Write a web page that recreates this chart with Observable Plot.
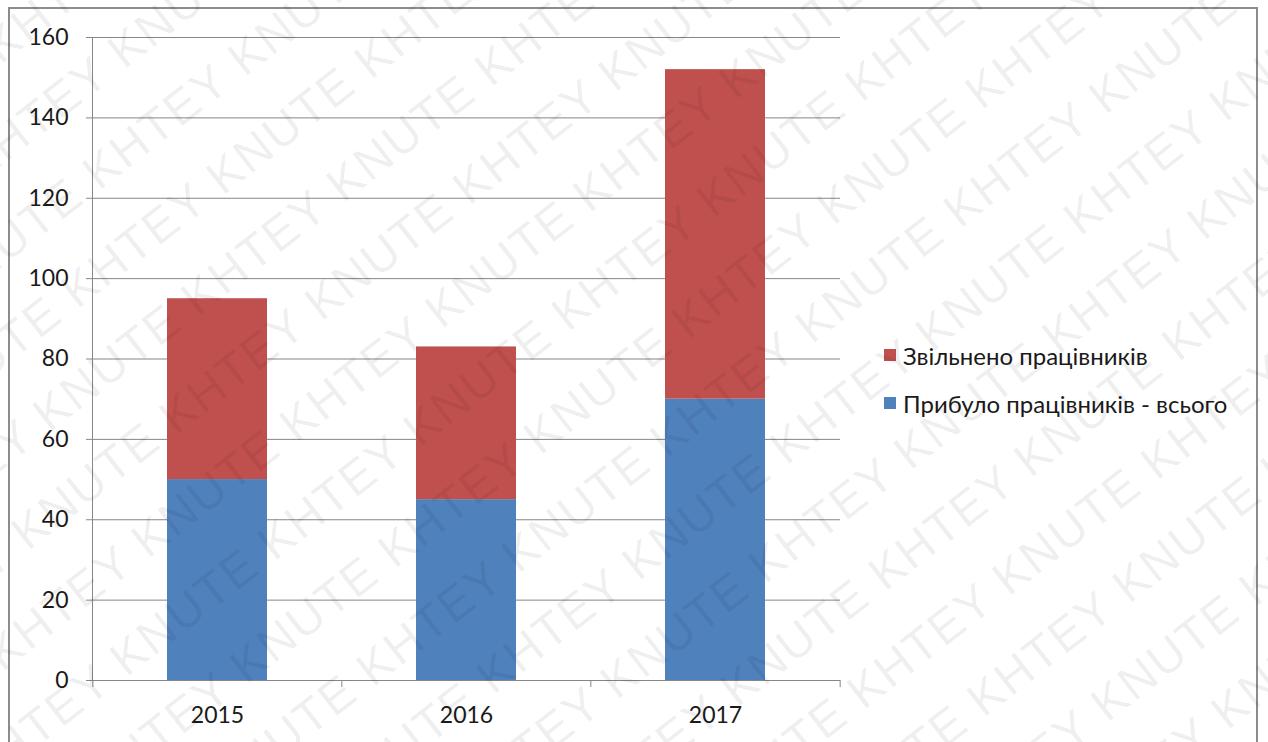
<!DOCTYPE html>
<html><head><meta charset="utf-8">
<script src="https://cdn.jsdelivr.net/npm/d3@7"></script>
<script src="https://cdn.jsdelivr.net/npm/@observablehq/plot@0.6"></script>
<style>
body{margin:0;background:#fff;}
#wrap{position:relative;width:1268px;height:742px;overflow:hidden;font-family:Lato,"Open Sans",sans-serif;background:#fff;}
#frame{position:absolute;left:8px;top:7px;width:1250px;height:760px;border:2px solid #8c8c8c;box-sizing:border-box;}
#chart{position:absolute;left:0;top:0;}
#legend{position:absolute;left:884px;top:331px;font-size:24px;color:#1a1a1a;}
.item{display:flex;align-items:center;height:48px;white-space:nowrap;}
.sw{width:12px;height:12px;margin-right:7px;flex:none;}
#wm{position:absolute;left:0;top:0;width:1268px;height:742px;pointer-events:none;background-repeat:no-repeat;}
</style></head><body>
<div id="wrap"><div id="frame"></div><div id="chart"></div><div id="legend"></div><div id="wm"></div></div>
<script>
const years = ["2015", "2016", "2017"];
const hired = [50, 45, 70];   // Прибуло працівників - всього
const fired = [45, 38, 82];   // Звільнено працівників
const seriesNames = ["Прибуло працівників - всього", "Звільнено працівників"];
const seriesColors = ["#4f81bd", "#c0504d"];
const legendOrder = ["Звільнено працівників", "Прибуло працівників - всього"];
const yTicks = [0, 20, 40, 60, 80, 100, 120, 140, 160];
const watermarkWords = ["KNUTE", "KHTEY"];

const rows = [];
years.forEach((y, i) => {
  rows.push({year: y, series: seriesNames[0], value: hired[i]});
  rows.push({year: y, series: seriesNames[1], value: fired[i]});
});

const W = 1268, H = 742, mL = 92, mR = 428, mT = 37, mB = 62;
const step = (W - mL - mR) / years.length;
const grey = "#868686";

const chart = Plot.plot({
  width: W, height: H,
  marginLeft: mL, marginRight: mR, marginTop: mT, marginBottom: mB,
  style: {fontFamily: 'Lato, "Open Sans", sans-serif', fontSize: "23px", color: "#1a1a1a", background: "transparent"},
  x: {domain: years, paddingInner: 0.6, paddingOuter: 0.3, axis: null},
  y: {domain: [0, 160], axis: null},
  color: {domain: seriesNames, range: seriesColors},
  marks: [
    Plot.gridY(yTicks, {stroke: grey, strokeOpacity: 1}),
    Plot.barY(rows, {x: "year", y: "value", fill: "series"}),
    Plot.axisY(yTicks, {tickSize: 6, tickPadding: 18, stroke: grey, strokeOpacity: 1, fontSize: 23, label: null}),
    Plot.axisX(years, {tickSize: 0, tickPadding: 26, fontSize: 23, label: null}),
    Plot.ruleY([0], {stroke: grey}),
    Plot.frame({anchor: "left", stroke: grey}),
    Plot.ruleX(years, {x: d => d, dx: -step / 2, y1: 0, y2: -1.75, stroke: grey}),
    Plot.ruleX(years.slice(-1), {x: d => d, dx: step / 2, y1: 0, y2: -1.75, stroke: grey})
  ]
});
document.getElementById("chart").appendChild(chart);

const legend = document.getElementById("legend");
legendOrder.forEach(name => {
  const it = document.createElement("div"); it.className = "item";
  const sw = document.createElement("div"); sw.className = "sw";
  sw.style.background = seriesColors[seriesNames.indexOf(name)];
  const t = document.createElement("span"); t.textContent = name;
  it.appendChild(sw); it.appendChild(t); legend.appendChild(it);
});

// watermark overlay (decorative background image)
const wmSvg = d3.create("svg").attr("xmlns", "http://www.w3.org/2000/svg").attr("width", W).attr("height", H);
const g = wmSvg.append("g").attr("transform", `rotate(-38 ${W/2} ${H/2})`);
const line = Array.from({length: 28}, (_, k) => watermarkWords[k % 2]).join(" ");
let r = 0;
for (let yy = -500; yy <= H + 500; yy += 80, r++) {
  g.append("text")
    .attr("x", -700 + (r % 2) * 90)
    .attr("y", yy)
    .attr("font-family", "Liberation Sans, Arial, sans-serif")
    .attr("font-size", 48)
    .attr("fill", "#000")
    .attr("fill-opacity", 0.07)
    .attr("letter-spacing", 2)
    .text(line);
}
const svgStr = new XMLSerializer().serializeToString(wmSvg.node());
document.getElementById("wm").style.backgroundImage = `url("data:image/svg+xml;charset=utf-8,${encodeURIComponent(svgStr)}")`;
</script>
</body></html>
